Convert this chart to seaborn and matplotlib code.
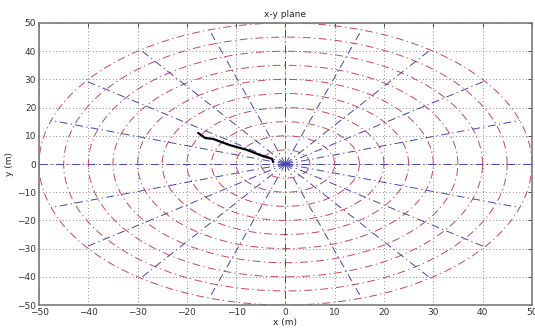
import numpy as np
import pandas as pd
import matplotlib
matplotlib.use("Agg")
import matplotlib.pyplot as plt
import seaborn as sns

# grid of range circles (m) and bearing spokes (deg)
circle_radii = [5, 10, 15, 20, 25, 30, 35, 40, 45, 50]
spoke_angles = list(range(0, 360, 18))
spoke_length = 50

# trajectory
traj_x = [-2.5, -2.7, -5.2, -7.8, -11.3, -14.7, -16.3, -17.7]
traj_y = [0.7, 1.8, 3.2, 5.0, 6.7, 8.9, 9.2, 11.0]

x_ticks = list(range(-50, 51, 10))
y_ticks = list(range(-50, 51, 10))

RED = "#c4475f"
BLUE = "#4545a8"

sns.set_style("white")
plt.rcParams['font.family'] = ['DejaVu Sans']

fig = plt.figure(figsize=(5.35, 3.28), dpi=100)
ax = fig.add_axes([0.073, 0.070, 0.921, 0.860])

theta = np.linspace(0, 2 * np.pi, 361)
for r in circle_radii:
    df = pd.DataFrame({"x": r * np.cos(theta), "y": r * np.sin(theta)})
    sns.lineplot(data=df, x="x", y="y", sort=False, estimator=None, ax=ax,
                 color=RED, lw=0.7, linestyle=(0, (8, 3.5, 1.3, 3.5)), zorder=2)

for a in spoke_angles:
    t = np.deg2rad(a)
    df = pd.DataFrame({"x": [0, spoke_length * np.cos(t)], "y": [0, spoke_length * np.sin(t)]})
    sns.lineplot(data=df, x="x", y="y", sort=False, estimator=None, ax=ax,
                 color=BLUE, lw=0.7, linestyle=(0, (8, 3.5, 1.3, 3.5)), zorder=3)

sns.lineplot(x=traj_x, y=traj_y, sort=False, estimator=None, ax=ax,
             color="black", lw=1.6, zorder=4)

ax.set_xlim(-50, 50)
ax.set_ylim(-50, 50)
ax.set_xticks(x_ticks)
ax.set_yticks(y_ticks)
ax.grid(True, linestyle=(0, (1, 3)), color="#666666", lw=0.6)
ax.set_axisbelow(True)
ax.tick_params(direction="in", length=3, width=0.6, labelsize=6.5, colors="#333333",
               top=True, right=True, pad=2)
for s in ax.spines.values():
    s.set_color("#7a7a7a")
    s.set_linewidth(1.2)

ax.set_title("x-y plane", fontsize=6.5, pad=4)
ax.set_xlabel("x (m)", fontsize=6.5, labelpad=1)
ax.set_ylabel("y (m)", fontsize=6.5, labelpad=2)

fig.savefig("out.png", dpi=100)
